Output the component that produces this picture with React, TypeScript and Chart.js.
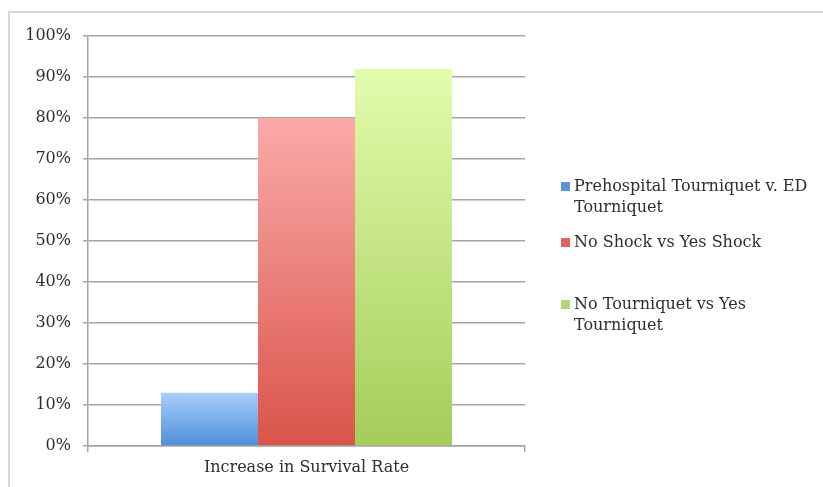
import React, { useEffect, useRef } from "react";
import { Chart, registerables } from "chart.js";

Chart.register(...registerables);

const categories = ["Increase in Survival Rate"];
const seriesLabels = [
  "Prehospital Tourniquet v. ED Tourniquet",
  "No Shock vs Yes Shock",
  "No Tourniquet vs Yes Tourniquet",
];
const legendLines = [
  ["Prehospital Tourniquet v. ED", "Tourniquet"],
  ["No Shock vs Yes Shock"],
  ["No Tourniquet vs Yes", "Tourniquet"],
];
const prehospitalValues = [13];
const shockValues = [80];
const tourniquetValues = [92];
const yMin = 0;
const yMax = 100;
const yStep = 10;

const topColors = ["#a9cefb", "#fbaaa9", "#e2fcad"];
const bottomColors = ["#4e8fd9", "#d9544a", "#a5cd58"];
const legendColors = ["#5b95dc", "#e06462", "#b3d673"];

const FONT = "'DejaVu Serif', serif";
const TEXT = "#2e2e2e";
const GRID = "#a4a4a4";

const gradientFill = (i: number) => (ctx: any) => {
  const chart = ctx.chart;
  const y = chart.scales && chart.scales.y;
  if (!y || ctx.type !== "data") return bottomColors[i];
  const y0 = y.getPixelForValue(0);
  const y1 = y.getPixelForValue(ctx.raw);
  if (!isFinite(y0) || !isFinite(y1) || y0 === y1) return bottomColors[i];
  const g = chart.ctx.createLinearGradient(0, y1, 0, y0);
  g.addColorStop(0, topColors[i]);
  g.addColorStop(1, bottomColors[i]);
  return g;
};

const legendTops = [187, 243, 305];

const legendPlugin = {
  id: "sideLegend",
  afterDraw(chart: any) {
    const c = chart.ctx;
    c.save();
    c.font = `16px ${FONT}`;
    c.textBaseline = "middle";
    c.textAlign = "left";
    chart.data.datasets.forEach((ds: any, i: number) => {
      const yc = legendTops[i];
      c.fillStyle = legendColors[i];
      c.fillRect(561, yc - 5, 9, 9);
      c.fillStyle = TEXT;
      legendLines[i].forEach((line, j) => {
        c.fillText(line, 574, yc + j * 21);
      });
    });
    c.restore();
  },
};

export default function App() {
  const ref = useRef<HTMLCanvasElement>(null);
  useEffect(() => {
    if (!ref.current) return;
    const values = [prehospitalValues, shockValues, tourniquetValues];
    const chart = new Chart(ref.current, {
      type: "bar",
      data: {
        labels: categories,
        datasets: values.map((v, i) => ({
          label: seriesLabels[i],
          data: v,
          backgroundColor: gradientFill(i),
          borderWidth: 0,
          categoryPercentage: 0.666,
          barPercentage: 1,
        })),
      },
      options: {
        animation: false,
        responsive: false,
        maintainAspectRatio: false,
        layout: { padding: { top: 36, right: 298, left: 0, bottom: 0 } },
        plugins: { legend: { display: false }, tooltip: { enabled: false } },
        scales: {
          x: {
            afterFit: (s: any) => {
              s.height = 41;
            },
            grid: {
              offset: true,
              drawOnChartArea: false,
              drawTicks: true,
              tickLength: 6,
              color: GRID,
              lineWidth: 1.5,
            },
            border: { display: true, color: GRID, width: 1.5 },
            ticks: { color: TEXT, font: { family: FONT, size: 16 }, padding: 6 },
          },
          y: {
            min: yMin,
            max: yMax,
            afterFit: (s: any) => {
              s.width = 88;
            },
            grid: { color: GRID, lineWidth: 1.5, tickLength: 5, drawTicks: true },
            border: { display: true, color: GRID, width: 1.5 },
            ticks: {
              stepSize: yStep,
              color: TEXT,
              font: { family: FONT, size: 16 },
              padding: 12,
              callback: (v: any) => `${v}%`,
            },
          },
        },
      },
      plugins: [legendPlugin],
    });
    return () => chart.destroy();
  }, []);
  return (
    <div style={{ position: "fixed", left: 0, top: 0, width: 823, height: 487, background: "#fff", overflow: "hidden" }}>
      <div
        style={{
          position: "absolute",
          left: 8,
          top: 11,
          width: 840,
          height: 500,
          borderTop: "2px solid #d6d6d6",
          borderLeft: "2px solid #d6d6d6",
          boxSizing: "border-box",
        }}
      />
      <canvas
        ref={ref}
        width={823}
        height={487}
        style={{ display: "block", position: "absolute", left: 0, top: 0 }}
      />
    </div>
  );
}
